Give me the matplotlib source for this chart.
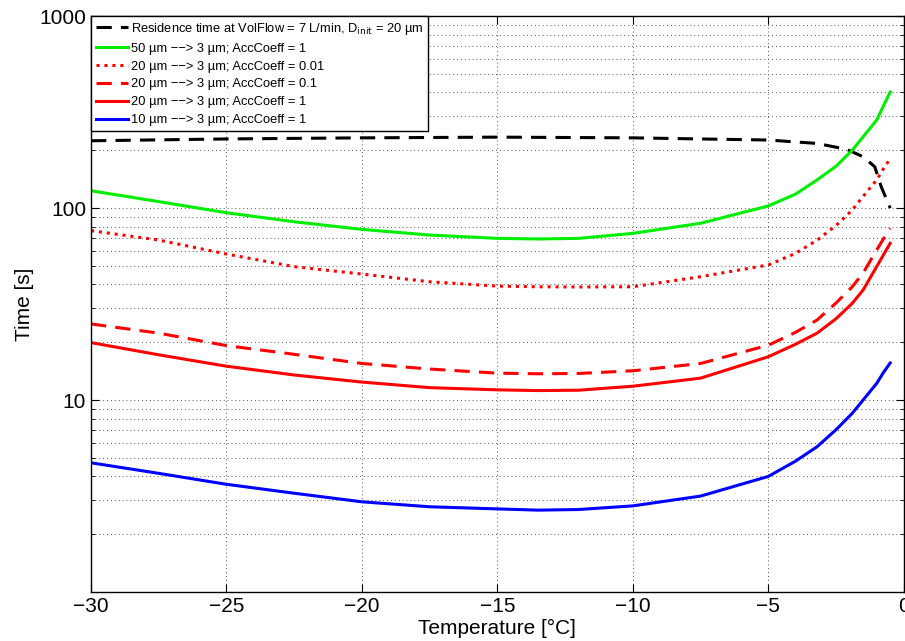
import numpy as np
import matplotlib
matplotlib.use("Agg")
import matplotlib.pyplot as plt
from matplotlib.ticker import LogLocator, NullFormatter, FixedLocator

plt.rcParams["font.family"] = ["Liberation Sans", "DejaVu Sans"]

# residence time (black dashed)
t_res = [-30, -25, -20, -15, -10, -5, -3.2, -2.1, -1.5, -1.07, -0.83, -0.5]
y_res = [224, 229, 232, 234, 232, 226, 217, 202, 185, 164, 129, 100]

t_curve = [-30, -27.5, -25, -22.5, -20, -17.5, -15, -13.5, -12, -10, -7.5,
           -5, -4, -3.2, -2.5, -1.9, -1.5, -1.0, -0.75, -0.5]
y_50_1 = [123, 108, 94.5, 84.8, 77.4, 72.3, 69.5, 69, 69.5, 73.8, 83.3,
          102.5, 118, 140, 165, 200, 235, 287, 340, 402]
y_20_001 = [76.2, 68.1, 57.6, 49.5, 45.3, 41.3, 39.2, 38.9, 38.8, 38.9, 43.9,
            50.5, 58, 68, 81, 97.6, 115, 140, 160, 181]
y_20_01 = [24.9, 22.3, 19.2, 17.3, 15.5, 14.5, 13.8, 13.7, 13.75, 14.2, 15.5,
           19.3, 22.5, 26.1, 32, 38.9, 45.9, 60.4, 69, 78.4]
y_20_1 = [19.9, 17.2, 15.0, 13.5, 12.4, 11.6, 11.3, 11.2, 11.25, 11.8, 13.0,
          16.8, 19.5, 22.3, 26.5, 31.9, 37.4, 49.5, 57, 65.5]
y_10_1 = [4.71, 4.15, 3.64, 3.27, 2.95, 2.78, 2.71, 2.67, 2.69, 2.81, 3.16,
          4.0, 4.8, 5.71, 7.0, 8.53, 10, 12.2, 13.9, 15.6]

labels = [
    "Residence time at VolFlow = 7 L/min, D$_{\\mathrm{init}}$ = 20 µm",
    "50 µm −−> 3 µm; AccCoeff = 1",
    "20 µm −−> 3 µm; AccCoeff = 0.01",
    "20 µm −−> 3 µm; AccCoeff = 0.1",
    "20 µm −−> 3 µm; AccCoeff = 1",
    "10 µm −−> 3 µm; AccCoeff = 1",
]

fig = plt.figure(figsize=(9.05, 6.41), dpi=100)
ax = fig.add_axes([0.1006, 0.0764, 0.898, 0.8986])

lw = 2.2
ax.plot(t_res, y_res, color="black", lw=lw, dashes=(5, 3), label=labels[0])
ax.plot(t_curve, y_50_1, color="#00ee00", lw=lw, label=labels[1])
ax.plot(t_curve, y_20_001, color="red", lw=lw, dashes=(1, 1.6), label=labels[2])
ax.plot(t_curve, y_20_01, color="red", lw=lw, dashes=(5, 3), label=labels[3])
ax.plot(t_curve, y_20_1, color="red", lw=lw, label=labels[4])
ax.plot(t_curve, y_10_1, color="blue", lw=lw, label=labels[5])

ax.set_yscale("log")
ax.set_xlim(-30, 0)
ax.set_ylim(1, 1000)
ax.xaxis.set_major_locator(FixedLocator([-30, -25, -20, -15, -10, -5, 0]))
ax.yaxis.set_major_locator(FixedLocator([10, 100, 1000]))
ax.yaxis.set_major_formatter(plt.FuncFormatter(lambda v, p: f"{int(v)}"))
ax.yaxis.set_minor_locator(LogLocator(base=10, subs=np.arange(2, 10)))
ax.yaxis.set_minor_formatter(NullFormatter())

ax.grid(True, which="major", axis="both", color="#555555", ls=(0, (1, 3)), lw=0.7)
ax.grid(True, which="minor", axis="y", color="#555555", ls=(0, (1, 3)), lw=0.7)
ax.tick_params(which="both", direction="in", top=True, right=True, labelsize=15)
ax.tick_params(which="major", length=6)
ax.tick_params(which="minor", length=3)
for s in ax.spines.values():
    s.set_linewidth(1.0)

ax.set_xlabel("Temperature [°C]", fontsize=15, labelpad=2)
ax.set_ylabel("Time [s]", fontsize=15, labelpad=4)

leg = ax.legend(loc="upper left", fontsize=9.3, frameon=True, fancybox=False,
                borderaxespad=0.0, handlelength=2.5, handletextpad=0.25,
                labelspacing=0.46, borderpad=0.35)
leg.get_frame().set_edgecolor("black")
leg.get_frame().set_linewidth(1.0)
leg.get_frame().set_alpha(1)

fig.savefig("out.png", dpi=100)
